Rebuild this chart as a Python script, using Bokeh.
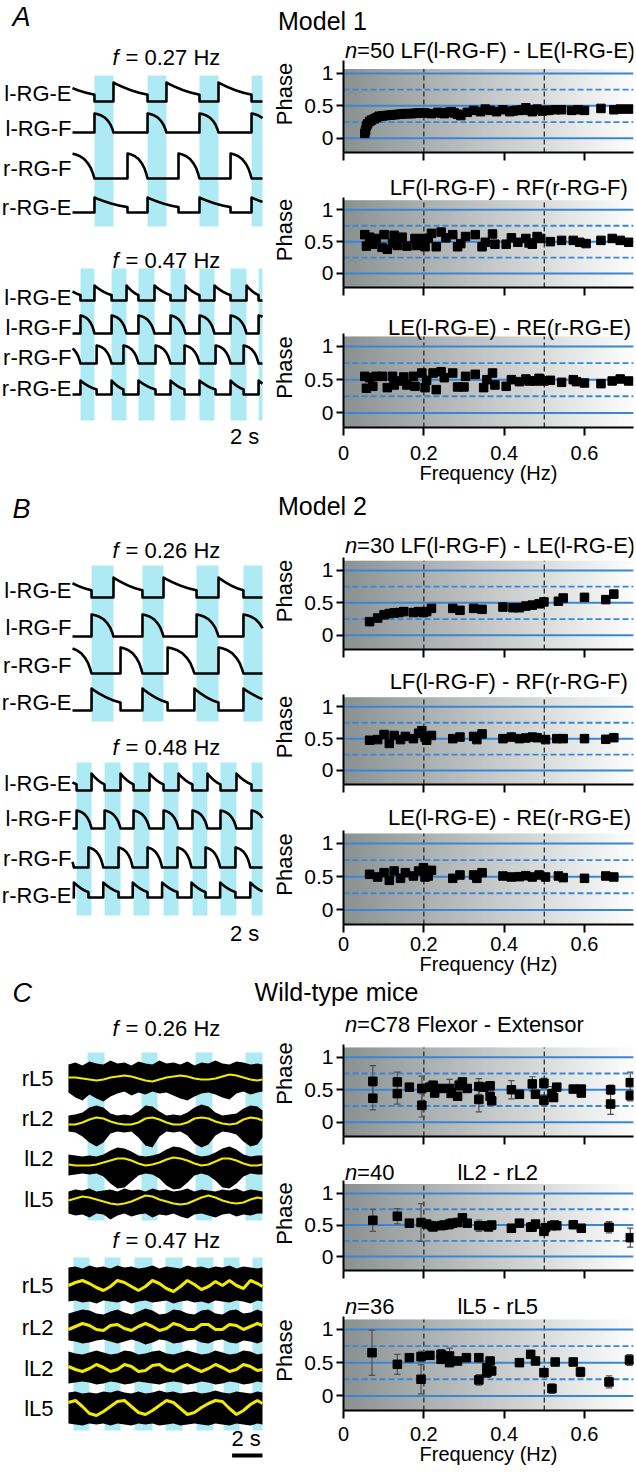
import numpy as np
from bokeh.plotting import figure
from bokeh.models import Range1d, FixedTicker, LinearAxis, CustomLabelingPolicy
from bokeh.layouts import column, row
from bokeh.embed import file_html
from bokeh.resources import INLINE
from bokeh.core.properties import value

FONT = "Liberation Sans"
U = 67.0          # px per phase unit
LW, PW = 269, 367
PXS = 14.0        # px per second in the trace panels
CYAN = "#aeeaf3"
BLUE = "#3a86d6"
YELLOW = "#f2ea00"

# ---------------- phase data (frequency Hz, phase) ----------------
A1_F = [0.053, 0.055, 0.057, 0.060, 0.065, 0.070, 0.077, 0.083, 0.089, 0.097, 0.105, 0.113, 0.121, 0.130, 0.138, 0.146, 0.154, 0.162, 0.170, 0.178, 0.186, 0.195, 0.203, 0.219, 0.235, 0.243, 0.251, 0.260, 0.268, 0.276, 0.284, 0.292, 0.308, 0.324, 0.341, 0.353, 0.365, 0.381, 0.397, 0.414, 0.422, 0.430, 0.438, 0.446, 0.454, 0.462, 0.470, 0.478, 0.482, 0.495, 0.503, 0.511, 0.527, 0.543, 0.568, 0.584, 0.600, 0.641, 0.673, 0.689, 0.710]
A1_P = [0.075, 0.12, 0.19, 0.22, 0.26, 0.28, 0.30, 0.32, 0.34, 0.345, 0.35, 0.355, 0.36, 0.365, 0.37, 0.375, 0.38, 0.38, 0.38, 0.385, 0.39, 0.39, 0.39, 0.38, 0.40, 0.39, 0.38, 0.40, 0.41, 0.39, 0.37, 0.35, 0.40, 0.43, 0.41, 0.45, 0.43, 0.41, 0.44, 0.41, 0.42, 0.43, 0.43, 0.44, 0.47, 0.43, 0.41, 0.44, 0.45, 0.42, 0.43, 0.43, 0.44, 0.44, 0.43, 0.44, 0.43, 0.46, 0.44, 0.45, 0.45]

A2_F = [0.053, 0.057, 0.065, 0.073, 0.081, 0.096, 0.101, 0.109, 0.122, 0.126, 0.134, 0.146, 0.158, 0.178, 0.182, 0.199, 0.203, 0.211, 0.219, 0.231, 0.243, 0.255, 0.272, 0.284, 0.292, 0.304, 0.328, 0.345, 0.353, 0.371, 0.377, 0.405, 0.418, 0.434, 0.454, 0.462, 0.470, 0.482, 0.491, 0.515, 0.543, 0.572, 0.588, 0.604, 0.641, 0.669, 0.689, 0.710]
A2_P = [0.61, 0.43, 0.57, 0.46, 0.55, 0.41, 0.61, 0.38, 0.47, 0.60, 0.44, 0.57, 0.43, 0.55, 0.44, 0.55, 0.42, 0.55, 0.63, 0.42, 0.65, 0.56, 0.61, 0.42, 0.47, 0.58, 0.61, 0.42, 0.49, 0.62, 0.46, 0.46, 0.56, 0.49, 0.55, 0.48, 0.46, 0.58, 0.55, 0.50, 0.52, 0.52, 0.49, 0.47, 0.52, 0.55, 0.52, 0.49]

A3_F = [0.053, 0.057, 0.065, 0.073, 0.081, 0.097, 0.109, 0.122, 0.126, 0.138, 0.150, 0.158, 0.174, 0.178, 0.195, 0.203, 0.207, 0.223, 0.231, 0.243, 0.251, 0.272, 0.284, 0.300, 0.304, 0.328, 0.349, 0.357, 0.371, 0.377, 0.405, 0.418, 0.438, 0.454, 0.462, 0.478, 0.487, 0.499, 0.515, 0.543, 0.572, 0.580, 0.600, 0.641, 0.669, 0.689, 0.710]
A3_P = [0.55, 0.37, 0.53, 0.40, 0.55, 0.55, 0.38, 0.55, 0.42, 0.48, 0.54, 0.42, 0.55, 0.40, 0.60, 0.38, 0.49, 0.60, 0.35, 0.62, 0.53, 0.60, 0.39, 0.39, 0.55, 0.58, 0.38, 0.50, 0.60, 0.42, 0.40, 0.50, 0.47, 0.51, 0.48, 0.48, 0.52, 0.48, 0.49, 0.46, 0.50, 0.47, 0.45, 0.44, 0.48, 0.51, 0.48]

B1_F = [0.065, 0.085, 0.101, 0.114, 0.126, 0.138, 0.150, 0.174, 0.187, 0.199, 0.207, 0.219, 0.272, 0.290, 0.324, 0.345, 0.397, 0.422, 0.438, 0.454, 0.470, 0.487, 0.499, 0.535, 0.547, 0.600, 0.653, 0.673]
B1_P = [0.21, 0.265, 0.315, 0.335, 0.345, 0.35, 0.365, 0.35, 0.365, 0.35, 0.365, 0.415, 0.415, 0.385, 0.415, 0.40, 0.435, 0.425, 0.425, 0.45, 0.465, 0.485, 0.515, 0.525, 0.575, 0.585, 0.55, 0.635]

B2_F = [0.065, 0.085, 0.101, 0.114, 0.126, 0.142, 0.154, 0.174, 0.187, 0.195, 0.203, 0.207, 0.219, 0.272, 0.290, 0.324, 0.332, 0.345, 0.397, 0.418, 0.438, 0.454, 0.470, 0.482, 0.503, 0.531, 0.547, 0.600, 0.653, 0.673]
B2_P = [0.475, 0.485, 0.565, 0.425, 0.55, 0.485, 0.535, 0.50, 0.585, 0.625, 0.525, 0.475, 0.55, 0.50, 0.525, 0.535, 0.485, 0.575, 0.50, 0.525, 0.50, 0.51, 0.525, 0.515, 0.485, 0.50, 0.50, 0.50, 0.49, 0.515]

B3_F = [0.065, 0.085, 0.101, 0.114, 0.126, 0.142, 0.154, 0.174, 0.187, 0.199, 0.203, 0.211, 0.219, 0.272, 0.290, 0.324, 0.332, 0.345, 0.397, 0.418, 0.438, 0.454, 0.470, 0.487, 0.503, 0.535, 0.547, 0.600, 0.653, 0.673]
B3_P = [0.535, 0.495, 0.56, 0.445, 0.585, 0.475, 0.56, 0.51, 0.585, 0.635, 0.495, 0.51, 0.595, 0.475, 0.525, 0.525, 0.475, 0.56, 0.51, 0.495, 0.50, 0.515, 0.495, 0.525, 0.495, 0.51, 0.485, 0.475, 0.51, 0.495]

C1_F = [0.073, 0.073, 0.134, 0.134, 0.164, 0.195, 0.195, 0.215, 0.223, 0.227, 0.243, 0.264, 0.268, 0.284, 0.288, 0.296, 0.308, 0.337, 0.337, 0.349, 0.365, 0.365, 0.369, 0.418, 0.438, 0.470, 0.478, 0.499, 0.499, 0.519, 0.523, 0.531, 0.572, 0.592, 0.592, 0.665, 0.665, 0.714, 0.714]
C1_P = [0.63, 0.37, 0.62, 0.44, 0.54, 0.52, 0.26, 0.54, 0.57, 0.45, 0.52, 0.52, 0.45, 0.40, 0.57, 0.62, 0.52, 0.55, 0.35, 0.54, 0.56, 0.40, 0.33, 0.50, 0.43, 0.59, 0.43, 0.60, 0.34, 0.44, 0.38, 0.54, 0.51, 0.51, 0.45, 0.50, 0.28, 0.61, 0.41]
C1_E = [0.24, 0.18, 0.15, 0.16, 0.05, 0.19, 0.18, 0.04, 0.04, 0.04, 0.05, 0.14, 0.06, 0.06, 0.08, 0.04, 0.05, 0.12, 0.19, 0.05, 0.06, 0.06, 0.05, 0.14, 0.03, 0.11, 0.03, 0.08, 0.08, 0.11, 0.06, 0.04, 0.03, 0.04, 0.04, 0.07, 0.16, 0.16, 0.08]

C2_F = [0.073, 0.134, 0.164, 0.193, 0.207, 0.219, 0.223, 0.243, 0.250, 0.264, 0.272, 0.284, 0.296, 0.308, 0.337, 0.357, 0.361, 0.369, 0.418, 0.438, 0.466, 0.470, 0.478, 0.499, 0.503, 0.519, 0.525, 0.531, 0.572, 0.592, 0.661, 0.714]
C2_P = [0.575, 0.64, 0.53, 0.54, 0.515, 0.49, 0.47, 0.49, 0.50, 0.515, 0.53, 0.54, 0.615, 0.53, 0.49, 0.49, 0.47, 0.50, 0.45, 0.53, 0.465, 0.47, 0.515, 0.40, 0.46, 0.49, 0.50, 0.49, 0.505, 0.45, 0.465, 0.30]
C2_E = [0.175, 0.12, 0.05, 0.30, 0.03, 0.04, 0.03, 0.06, 0.06, 0.08, 0.04, 0.05, 0.06, 0.03, 0.09, 0.04, 0.03, 0.04, 0.05, 0.02, 0.06, 0.03, 0.02, 0.05, 0.03, 0.04, 0.03, 0.03, 0.02, 0.05, 0.09, 0.15]

C3_F = [0.071, 0.134, 0.164, 0.193, 0.193, 0.215, 0.243, 0.243, 0.264, 0.264, 0.284, 0.306, 0.337, 0.337, 0.357, 0.357, 0.365, 0.369, 0.438, 0.466, 0.478, 0.499, 0.519, 0.527, 0.572, 0.590, 0.661, 0.712]
C3_P = [0.65, 0.475, 0.575, 0.59, 0.25, 0.61, 0.625, 0.55, 0.60, 0.50, 0.525, 0.575, 0.575, 0.24, 0.425, 0.35, 0.525, 0.375, 0.50, 0.625, 0.525, 0.35, 0.11, 0.51, 0.51, 0.36, 0.21, 0.54]
C3_E = [0.34, 0.15, 0.04, 0.08, 0.22, 0.05, 0.07, 0.05, 0.12, 0.05, 0.05, 0.04, 0.03, 0.08, 0.10, 0.07, 0.05, 0.05, 0.04, 0.04, 0.03, 0.06, 0.07, 0.03, 0.03, 0.07, 0.09, 0.08]

# ---------------- model traces: burst intervals (s) ----------------
MODEL_LABELS = ["l-RG-E", "l-RG-F", "r-RG-F", "r-RG-E"]
A_HI_BANDS = [[1.57, 2.93], [5.36, 6.71], [9.07, 10.43], [12.79, 13.57]]
A_HI_LF = [[-2.21, -0.86], [1.57, 2.93], [5.36, 6.71], [9.07, 10.43], [12.79, 14.14]]
A_HI_RF = [[-3.71, -2.21], [-0.07, 1.57], [3.93, 5.36], [7.57, 9.07], [11.29, 12.79], [15.0, 16.4]]
A_LO_BANDS = [[0.57, 1.57], [2.79, 3.86], [4.71, 5.86], [7.0, 8.07], [9.07, 10.14], [11.29, 12.43], [13.29, 13.57]]
A_LO_LF = [[-1.57, -0.57], [0.57, 1.57], [2.79, 3.86], [4.71, 5.86], [7.0, 8.07], [9.07, 10.14], [11.29, 12.43], [13.29, 14.36]]
A_LO_RF = [[-2.5, -1.57], [-0.5, 0.57], [1.72, 2.79], [3.64, 4.71], [5.93, 7.0], [8.0, 9.07], [10.22, 11.29], [12.22, 13.29], [14.4, 15.4]]
B_HI_BANDS = [[1.36, 2.93], [5.0, 6.5], [8.86, 10.43], [12.21, 13.57]]
B_HI_LF = [[-2.29, -0.71], [1.36, 2.93], [5.0, 6.5], [8.86, 10.43], [12.21, 13.79]]
B_HI_RF = [[-4.0, -2.3], [-0.29, 1.36], [3.43, 5.0], [6.79, 8.71], [10.43, 12.21], [14.3, 16.0]]
B_LO_BANDS = [[0.29, 1.36], [2.29, 3.43], [4.36, 5.5], [6.5, 7.57], [8.57, 9.64], [10.57, 11.71], [12.79, 13.57]]
B_LO_LF = [[-1.79, -0.71], [0.29, 1.36], [2.29, 3.43], [4.36, 5.5], [6.5, 7.57], [8.57, 9.64], [10.57, 11.71], [12.79, 13.86]]
B_LO_RF = [[-2.9, -1.9], [-0.9, 0.1], [1.14, 2.2], [3.29, 4.3], [5.36, 6.4], [7.5, 8.5], [9.5, 10.55], [11.64, 12.7], [13.7, 14.7]]

# waveform templates (fraction of burst / inter-burst)
F_U = [0.0, 0.0, 0.15, 0.35, 0.55, 0.72, 0.85, 0.94, 1.0]
F_V = [0.0, 1.0, 0.97, 0.90, 0.78, 0.60, 0.40, 0.18, 0.0]
E_U = [0.0, 0.0, 0.08, 0.25, 0.5, 0.75, 1.0, 1.0]
E_V = [0.0, 1.0, 0.92, 0.78, 0.6, 0.46, 0.36, 0.0]

# ---------------- EMG envelopes (px above / below trace line) ----------------
EMG_LABELS = ["rL5", "rL2", "lL2", "lL5"]
EMG_T = [-0.29, 0.21, 0.71, 1.21, 1.71, 2.21, 2.71, 3.21, 3.71, 4.21, 4.71, 5.21, 5.71, 6.21, 6.71, 7.21, 7.71, 8.21, 8.71, 9.21, 9.71, 10.21, 10.71, 11.21, 11.71, 12.21, 12.71, 13.21, 13.57]
C_HI_BANDS = [[1.07, 2.29], [4.93, 6.07], [8.79, 10.0], [12.36, 13.57]]
C_LO_BANDS = [[0.07, 1.21], [2.29, 3.43], [4.43, 5.71], [6.64, 7.86], [8.86, 10.07], [10.79, 11.93], [12.86, 13.57]]

C_HI_TOP = [
    [14, 16, 13, 17, 15, 14, 18, 15, 16, 13, 17, 15, 14, 18, 15, 16, 14, 17, 13, 16, 15, 18, 15, 14, 17, 16, 14, 15, 14],
    [7, 8, 10, 15, 17, 15, 9, 7, 8, 7, 11, 17, 16, 11, 7, 8, 7, 10, 15, 18, 16, 10, 7, 8, 9, 14, 17, 16, 12],
    [9, 8, 7, 8, 7, 9, 13, 16, 15, 12, 8, 7, 8, 10, 14, 17, 16, 13, 9, 7, 8, 11, 15, 17, 14, 9, 7, 8, 8],
    [10, 12, 11, 13, 10, 11, 12, 10, 13, 11, 12, 10, 13, 11, 12, 10, 11, 13, 10, 12, 11, 10, 12, 11, 13, 10, 12, 11, 10]]
C_HI_BOT = [
    [14, 19, 22, 16, 20, 23, 18, 15, 13, 17, 14, 16, 13, 15, 14, 17, 20, 22, 18, 15, 14, 16, 19, 21, 15, 13, 16, 14, 13],
    [9, 10, 14, 20, 24, 20, 11, 9, 10, 9, 15, 23, 25, 14, 9, 10, 9, 13, 21, 25, 22, 13, 9, 10, 12, 19, 24, 22, 15],
    [12, 11, 10, 11, 10, 13, 20, 25, 24, 18, 12, 10, 11, 15, 22, 26, 25, 19, 12, 10, 12, 17, 24, 25, 20, 13, 10, 11, 11],
    [12, 14, 13, 16, 12, 13, 18, 14, 12, 15, 13, 12, 16, 13, 14, 12, 15, 17, 13, 12, 14, 16, 13, 12, 15, 13, 14, 12, 12]]
C_HI_YEL = [
    [1, 1, 0, -1, -2, -1, 1, 2, 3, 2, 0, -2, -3, -1, 1, 2, 3, 2, 0, -1, -1, 0, 2, 4, 3, 1, -1, -2, -1],
    [-2, -2, 0, 3, 5, 4, 1, -1, -2, -2, 0, 4, 5, 3, 0, -2, -2, 0, 4, 5, 4, 1, -1, -2, -1, 3, 5, 4, 2],
    [-1, -2, -2, -2, -1, 1, 3, 5, 5, 3, 0, -2, -1, 1, 4, 6, 5, 3, 0, -2, -1, 2, 5, 5, 3, 0, -2, -2, -1],
    [1, 3, 5, 4, 2, 0, -2, -3, -2, 0, 3, 6, 5, 2, 0, -2, -3, -2, 1, 4, 6, 4, 1, -1, -2, -1, 2, 4, 3]]
C_LO_TOP = [
    [18, 19, 17, 20, 18, 19, 17, 20, 18, 19, 17, 18, 20, 17, 19, 18, 17, 20, 18, 19, 17, 19, 18, 20, 17, 19, 18, 17, 18],
    [14, 16, 18, 17, 14, 13, 16, 18, 15, 13, 16, 19, 17, 13, 14, 18, 17, 14, 13, 17, 18, 14, 13, 17, 18, 14, 15, 18, 16],
    [17, 15, 14, 16, 18, 16, 14, 15, 18, 17, 14, 15, 17, 18, 15, 14, 16, 18, 16, 14, 15, 18, 16, 14, 15, 18, 17, 14, 15],
    [16, 17, 15, 16, 15, 17, 16, 18, 16, 15, 17, 15, 16, 18, 16, 17, 15, 16, 17, 15, 16, 18, 16, 15, 17, 16, 15, 17, 16]]
C_LO_BOT = [
    [16, 15, 17, 16, 18, 15, 16, 17, 15, 18, 16, 15, 17, 16, 15, 18, 16, 15, 17, 16, 18, 15, 16, 17, 15, 16, 18, 15, 16],
    [13, 14, 16, 15, 13, 12, 14, 16, 14, 12, 14, 17, 15, 12, 13, 16, 15, 13, 12, 15, 16, 13, 12, 15, 16, 13, 14, 16, 14],
    [15, 14, 13, 14, 16, 15, 13, 14, 16, 15, 13, 14, 15, 16, 14, 13, 14, 16, 15, 13, 14, 16, 15, 13, 14, 16, 15, 13, 14],
    [15, 16, 17, 15, 16, 15, 17, 15, 16, 17, 15, 16, 15, 17, 16, 15, 17, 16, 15, 16, 17, 15, 16, 17, 15, 16, 17, 15, 16]]
C_LO_YEL = [
    [0, 3, 5, 2, -2, -5, -1, 5, 3, -1, -5, -1, 5, 2, -3, -6, -1, 5, 1, -4, -1, 4, 0, 5, 0, -3, 5, 2, -1],
    [-2, 1, 4, 2, -2, -3, 2, 3, -1, -3, 1, 4, 1, -3, -1, 4, 2, -2, -2, 3, 3, -2, -2, 3, 2, -2, 1, 4, 2],
    [2, -1, -3, 0, 4, 1, -3, -1, 4, 2, -3, -2, 3, 4, -1, -3, 1, 4, 0, -3, 0, 4, 1, -3, -1, 4, 2, -2, -1],
    [6, 8, 2, -5, -7, -3, 2, 7, 8, 2, -4, -6, -2, 3, 8, 6, 0, -6, -4, 1, 5, 8, 7, 0, -6, -2, 4, 8, 5]]


def txt(p, x, y, s, size, align="left", style="normal", baseline="middle", x_offset=0, color="black"):
    p.text(x=[x], y=[y], text=[s], text_font=value(FONT), text_font_size=size,
           text_align=align, text_baseline=baseline, text_font_style=style,
           x_offset=x_offset, text_color=color)


def blank_fig(width, height, xr, yr):
    p = figure(width=width, height=height, x_range=xr, y_range=yr, output_backend="svg",
               toolbar_location=None, x_axis_type=None, y_axis_type=None,
               min_border=0, min_border_left=0, min_border_right=0, min_border_top=0, min_border_bottom=0)
    p.outline_line_color = None
    p.grid.visible = False
    return p


def header(h, letter, letter_y, title, title_x, title_y):
    p = blank_fig(636, round(h), Range1d(0, 636), Range1d(round(h), 0))
    txt(p, 12, letter_y, letter, "27px", style="italic")
    txt(p, title_x, title_y, title, "25px", align="center")
    return p


def f_wave(t, bursts):
    y = np.zeros_like(t)
    for s, e in bursts:
        m = (t >= s) & (t <= e)
        y[m] = np.interp((t[m] - s) / (e - s), F_U, F_V)
    return y


def e_wave(t, bursts):
    y = np.zeros_like(t)
    for (s0, e0), (s1, e1) in zip(bursts[:-1], bursts[1:]):
        m = (t > e0) & (t < s1)
        y[m] = np.interp((t[m] - e0) / (s1 - e0), E_U, E_V)
    return y


def bands(p, bl, y0, y1):
    p.quad(left=[b[0] for b in bl], right=[b[1] for b in bl], top=y0, bottom=y1,
           fill_color=CYAN, line_color=None)


def freq_label(p, y, fstr):
    x0 = (112 - 72) / PXS
    txt(p, x0, y, "f", "22px", style="italic")
    txt(p, x0, y, "= " + fstr + " Hz", "22px", x_offset=13)


def model_block(p, bl, lf, rf, y0, y1, bases, amps, label_y, fstr, fy):
    bands(p, bl, y0, y1)
    t = np.linspace(0, 13.571, 2400)
    waves = [e_wave(t, lf), f_wave(t, lf), f_wave(t, rf), e_wave(t, rf)]
    for w, b, a in zip(waves, bases, amps):
        p.line(t, b - a * w, line_color="black", line_width=2.6, line_join="round")
    for lab, ly in zip(MODEL_LABELS, label_y):
        txt(p, (71 - 72) / PXS, ly, lab, "22px", align="right")
    freq_label(p, fy, fstr)


def emg_block(p, bl, y0, y1, bases, tops, bots, yels, label_y, fstr, fy, yw):
    bands(p, bl, y0, y1)
    for b, tp, bt, yl in zip(bases, tops, bots, yels):
        p.varea(x=EMG_T, y1=[b - v for v in tp], y2=[b + v for v in bt], fill_color="black")
        p.line(EMG_T, [b - v for v in yl], line_color=YELLOW, line_width=yw)
    for lab, ly in zip(EMG_LABELS, label_y):
        txt(p, (53 - 72) / PXS, ly, lab, "22px", align="right")
    freq_label(p, fy, fstr)


def left_fig(height, top):
    xr = Range1d(-72 / PXS, (LW - 72) / PXS)
    yr = Range1d(top + height, top)
    return blank_fig(LW, height, xr, yr)


def phase_fig(top_u, border, fx, py, err=None, titles=(), bottom=False, box_top=1.15,
              tick_standoff=8, xl_standoff=-1):
    frame = round((top_u + 0.22) * U)
    border = round(border)
    p = figure(width=PW, height=frame + border, x_range=Range1d(0, 0.722),
               y_range=Range1d(-0.22, -0.22 + frame / U), output_backend="svg",
               toolbar_location=None, min_border_left=68, min_border_right=3,
               min_border_top=0, min_border_bottom=border)
    p.outline_line_color = None
    p.grid.visible = False
    n = 90
    edges = np.linspace(0, 0.722, n + 1)
    c0, c1 = np.array([138, 144, 144]), np.array([253, 253, 253])
    cols = ["#%02x%02x%02x" % tuple(int(round(v)) for v in c0 + (c1 - c0) * (i + 0.5) / n) for i in range(n)]
    p.quad(left=edges[:-1], right=edges[1:] + 0.002, bottom=-0.22, top=box_top,
           fill_color=cols, line_color=None)
    p.segment(x0=[0.2, 0.5], y0=[-0.22, -0.22], x1=[0.2, 0.5], y1=[box_top, box_top],
              line_color="#333333", line_width=1.4, line_dash="5 3")
    p.segment(x0=[0, 0, 0], y0=[0, 0.5, 1], x1=[0.722] * 3, y1=[0, 0.5, 1],
              line_color=BLUE, line_width=2)
    p.segment(x0=[0, 0], y0=[0.25, 0.75], x1=[0.722] * 2, y1=[0.25, 0.75],
              line_color=BLUE, line_width=1.8, line_dash="6 3")
    if err is not None:
        lo = [a - e for a, e in zip(py, err)]
        hi = [a + e for a, e in zip(py, err)]
        p.segment(x0=fx, y0=lo, x1=fx, y1=hi, line_color="#505050", line_width=1.2)
        p.segment(x0=[f - 0.008 for f in fx], y0=hi, x1=[f + 0.008 for f in fx], y1=hi,
                  line_color="#505050", line_width=1.2)
        p.segment(x0=[f - 0.008 for f in fx], y0=lo, x1=[f + 0.008 for f in fx], y1=lo,
                  line_color="#505050", line_width=1.2)
    p.scatter(fx, py, marker="square", size=8.5, fill_color="black", line_color="black")
    for (x, y, s, align, style, xo, size) in titles:
        txt(p, x, y, s, size, align=align, style=style, x_offset=xo)
    ya = p.yaxis[0]
    ya.ticker = FixedTicker(ticks=[0, 0.5, 1])
    ya.major_label_overrides = {0: "0", 0.5: "0.5", 1: "1"}
    ya.bounds = (-0.22, 1.2)
    ya.axis_line_width = 2
    ya.major_tick_line_width = 2
    ya.major_tick_out = 7
    ya.major_tick_in = 0
    ya.minor_tick_line_color = None
    ya.major_label_standoff = 3
    ya.major_label_text_font = FONT
    ya.major_label_text_font_size = "21px"
    ya.major_label_text_color = "black"
    ya.axis_label = "Phase"
    ya.axis_label_text_font = FONT
    ya.axis_label_text_font_size = "22px"
    ya.axis_label_text_font_style = "normal"
    ya.axis_label_text_color = "black"
    ya.axis_label_standoff = 4
    xa = p.xaxis[0]
    xa.ticker = FixedTicker(ticks=[0, 0.2, 0.4, 0.6])
    xa.axis_line_width = 2
    xa.major_tick_line_width = 2
    xa.major_tick_out = 8
    xa.major_tick_in = 0
    xa.minor_tick_line_color = None
    xa.major_label_standoff = tick_standoff
    xa.major_label_text_font = FONT
    if bottom:
        xa.major_label_overrides = {0: "0", 0.2: "0.2", 0.4: "0.4", 0.6: "0.6"}
        xa.major_label_text_font_size = "20px"
        xa.major_label_text_color = "black"
        ax2 = LinearAxis(ticker=FixedTicker(ticks=[]), axis_line_color=None,
                         major_tick_line_color=None, minor_tick_line_color=None,
                         major_label_text_font_size="0px", major_tick_out=0,
                         major_label_standoff=0, axis_label="Frequency (Hz)",
                         axis_label_text_font=FONT, axis_label_text_font_size="20px",
                         axis_label_text_color="black",
                         axis_label_text_font_style="normal", axis_label_standoff=xl_standoff,
                         bounds=(0, 0.59))
        p.add_layout(ax2, "below")
    else:
        xa.major_label_text_font_size = "1px"
        xa.major_label_policy = CustomLabelingPolicy(code="return []")
    return p


def ntitle(y, rest, size="22px"):
    return [(0.004, y, "n", "left", "italic", 0, size), (0.004, y, rest, "left", "normal", 12, size)]


def rtitle(x, y, s, align="right"):
    return [(x, y, s, align, "normal", 0, "22px")]


# ---------------- section A ----------------
hA = header(35, "A", 16, "Model 1", 322, 20)
a1 = phase_fig(1.58, 16, A1_F, A1_P, titles=ntitle(1.36, "=50 LF(l-RG-F) - LE(l-RG-E)"), box_top=1.07)
a2 = phase_fig(1.58, 14, A2_F, A2_P, titles=rtitle(0.708, 1.35, "LF(l-RG-F) - RF(r-RG-F)"))
a3 = phase_fig(1.58, 58, A3_F, A3_P, titles=rtitle(0.716, 1.29, "LE(l-RG-E) - RE(r-RG-E)"),
               bottom=True, tick_standoff=10, xl_standoff=-1)
lA = left_fig(a1.height + a2.height + a3.height, hA.height)
model_block(lA, A_HI_BANDS, A_HI_LF, A_HI_RF, 75, 226, [101, 132, 178, 212], [19, 19, 25, 15],
            [93, 128, 168, 207], "0.27", 57)
model_block(lA, A_LO_BANDS, A_LO_LF, A_LO_RF, 268, 420, [300, 333, 363, 394], [15, 18, 18, 14],
            [297, 327, 357, 388], "0.47", 260)
txt(lA, 12.3, 436, "2 s", "22px", align="center")
topB = hA.height + lA.height

# ---------------- section B ----------------
hB = header(46, "B", 22, "Model 2", 322, 19)
b1 = phase_fig(1.58, 16, B1_F, B1_P, titles=ntitle(1.39, "=30 LF(l-RG-F) - LE(l-RG-E)"))
b2 = phase_fig(1.58, 14, B2_F, B2_P, titles=rtitle(0.708, 1.39, "LF(l-RG-F) - RF(r-RG-F)"))
b3 = phase_fig(1.58, 52, B3_F, B3_P, titles=rtitle(0.716, 1.39, "LE(l-RG-E) - RE(r-RG-E)"),
               bottom=True, tick_standoff=4, xl_standoff=-1)
lB = left_fig(b1.height + b2.height + b3.height, topB + hB.height)
model_block(lB, B_HI_BANDS, B_HI_LF, B_HI_RF, 565, 721, [597, 636, 673, 710], [20, 22, 26, 22],
            [590, 627, 665, 702], "0.26", 550)
model_block(lB, B_LO_BANDS, B_LO_LF, B_LO_RF, 762, 915, [790, 828, 867, 897], [17, 18, 20, 15],
            [783, 818, 858, 895], "0.48", 747)
txt(lB, 12.3, 933, "2 s", "22px", align="center")
topC = topB + hB.height + lB.height

# ---------------- section C ----------------
hC = header(33, "C", 15, "Wild-type mice", 336, 14)
c1 = phase_fig(1.72, 16, C1_F, C1_P, err=C1_E, titles=ntitle(1.51, "=C78 Flexor - Extensor"))
c2 = phase_fig(1.58, 13, C2_F, C2_P, err=C2_E,
               titles=ntitle(1.34, "=40") + rtitle(0.384, 1.34, "lL2 - rL2", "center"))
c3 = phase_fig(1.58, 56, C3_F, C3_P, err=C3_E,
               titles=ntitle(1.34, "=36") + rtitle(0.384, 1.34, "lL5 - rL5", "center"),
               bottom=True, tick_standoff=8, xl_standoff=-1)
lC = left_fig(c1.height + c2.height + c3.height, topC + hC.height)
emg_block(lC, C_HI_BANDS, 1052, 1220, [1078, 1122, 1163, 1201], C_HI_TOP, C_HI_BOT, C_HI_YEL,
          [1078, 1118, 1158, 1199], "0.26", 1028, 2.2)
emg_block(lC, C_LO_BANDS, 1257, 1430, [1285, 1327, 1368, 1408], C_LO_TOP, C_LO_BOT, C_LO_YEL,
          [1285, 1327, 1368, 1408], "0.47", 1240, 3.0)
txt(lC, 12.4, 1438, "2 s", "22px", align="center")
lC.segment(x0=[11.4], y0=[1455], x1=[13.57], y1=[1455], line_color="black", line_width=4)

layout = column(
    hA, row(lA, column(a1, a2, a3)),
    hB, row(lB, column(b1, b2, b3)),
    hC, row(lC, column(c1, c2, c3)),
)

open("out.html", "w").write(file_html(layout, INLINE, title="Phase vs frequency"))
